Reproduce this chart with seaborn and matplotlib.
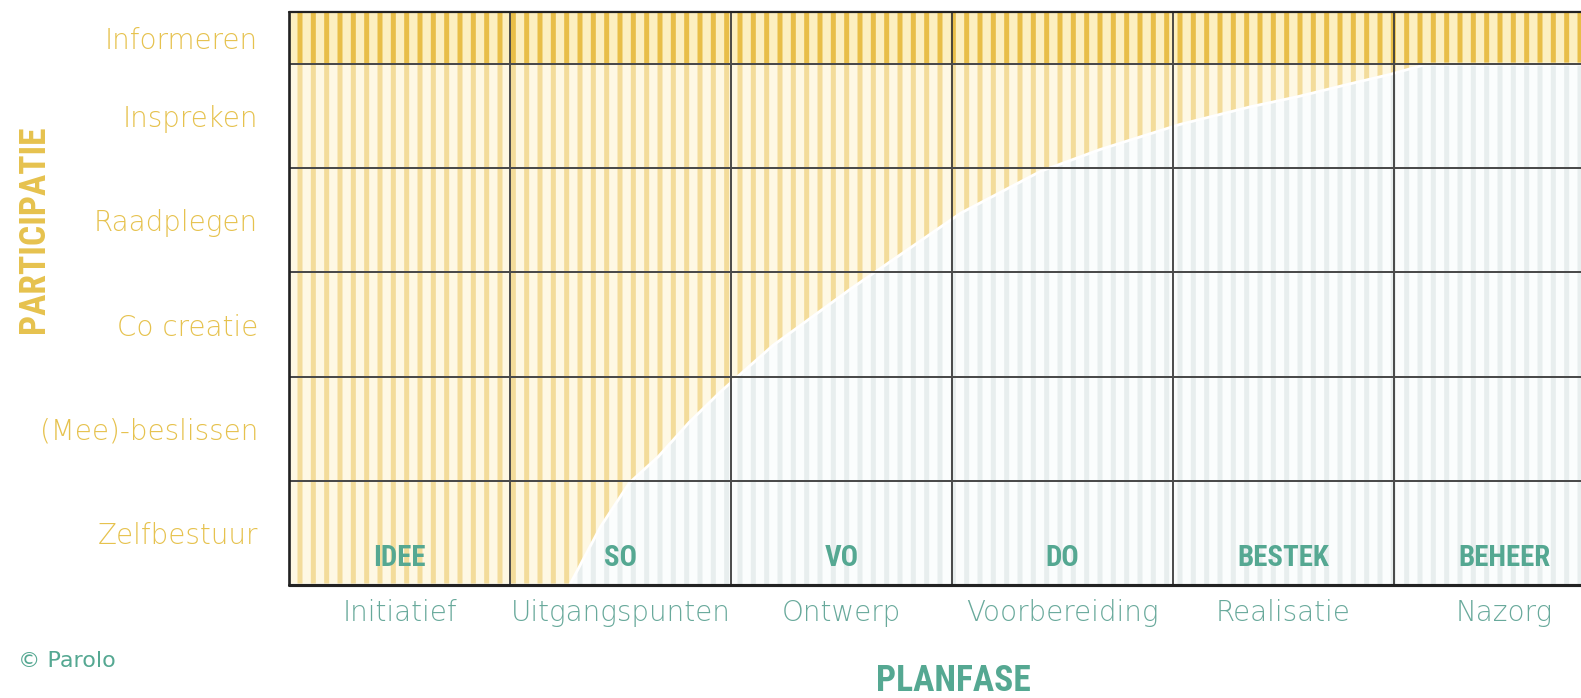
import matplotlib

matplotlib.use("Agg")

import matplotlib.pyplot as plt
import numpy as np
import seaborn as sns

phases = ["IDEE", "SO", "VO", "DO", "BESTEK", "BEHEER"]
phase_names = ["Initiatief", "Uitgangspunten", "Ontwerp", "Voorbereiding", "Realisatie", "Nazorg"]
levels = ["Zelfbestuur", "(Mee)-beslissen", "Co creatie", "Raadplegen", "Inspreken", "Informeren"]
row_edges = [0, 1, 2, 3, 4, 5, 5.5]

# grens tussen geel (participatie mogelijk) en blauw, in kolom- en rij-eenheden
curve_x = [0.0, 1.27, 1.41, 1.54, 1.67, 1.81, 1.95, 2.03, 2.19, 2.54, 3.04, 3.40,
           3.67, 4.03, 4.35, 4.57, 4.80, 4.98, 5.15, 6.0]
curve_y = [0.0, 0.00, 0.56, 0.98, 1.23, 1.56, 1.85, 2.00, 2.30, 2.84, 3.57, 3.97,
           4.18, 4.42, 4.59, 4.69, 4.81, 4.90, 5.00, 5.0]

YELLOW = "#e6c24e"
TEAL = "#55a892"
TEAL_LIGHT = "#68a99b"
NARROW = ["Roboto Condensed", "Liberation Sans Narrow", "DejaVu Sans"]

sns.set_theme(style="white")
plt.rcParams["font.family"] = ["DejaVu Sans"]
plt.rcParams["hatch.linewidth"] = 4.5

DPI = 80
fig = plt.figure(figsize=(1581 / DPI, 698 / DPI), dpi=DPI)
ax = fig.add_axes([289 / 1581, 113 / 698, 1326 / 1581, 573 / 698])

n_cols = len(phases)
top = row_edges[-2]
cx = np.array(curve_x)
cy = np.array(curve_y)

# gestreepte vlakken
ax.fill_between(cx, cy, top, facecolor="#fef8e3", edgecolor="#f3dc9a", hatch="|", linewidth=0)
ax.fill_between(cx, 0, cy, facecolor="#fbfdfd", edgecolor="#e8eeee", hatch="|", linewidth=0)
ax.fill_between([0, n_cols], top, row_edges[-1], facecolor="#fcefc0", edgecolor="#e8be48", hatch="|", linewidth=0)
sns.lineplot(x=curve_x, y=curve_y, sort=False, color="white", lw=2.5, ax=ax, zorder=2)

# raster
for x in range(1, n_cols):
    ax.axvline(x, color="#3a3a3a", lw=1.6, zorder=3)
for y in row_edges[1:-1]:
    ax.axhline(y, color="#4a4a4a", lw=1.8, zorder=3)
ax.axvline(0, color="#222222", lw=2.4, zorder=4, clip_on=False)
ax.axhline(row_edges[-1], color="#222222", lw=2.0, zorder=4, clip_on=False)
ax.axhline(0, color="#222222", lw=2.8, zorder=4, clip_on=False)

ax.set_xlim(0, n_cols)
ax.set_ylim(row_edges[0], row_edges[-1])
for side in ax.spines.values():
    side.set_visible(False)

ax.set_xticks(np.arange(n_cols) + 0.5, phase_names)
row_mid = [(a + b) / 2 for a, b in zip(row_edges[:-1], row_edges[1:])]
ax.set_yticks(row_mid, levels)
ax.tick_params(axis="x", length=0, pad=13, labelsize=25, labelcolor=TEAL_LIGHT)
ax.tick_params(axis="y", length=0, pad=28, labelsize=25, labelcolor=YELLOW)
for lab in ax.get_xticklabels() + ax.get_yticklabels():
    lab.set_fontweight(200)

for i, code in enumerate(phases):
    ax.text(i + 0.5, 0.26, code, ha="center", va="center", family=NARROW, fontstretch="condensed",
            weight="bold", fontsize=26, color=TEAL, zorder=5)

fig.text(34 / 1581, 1 - 229 / 698, "PARTICIPATIE", rotation=90, ha="center", va="center",
         family=NARROW, fontstretch="condensed", weight="bold", fontsize=32, color=YELLOW)
fig.text(953 / 1581, 1 - 681 / 698, "PLANFASE", ha="center", va="center",
         family=NARROW, fontstretch="condensed", weight="bold", fontsize=32, color=TEAL)
fig.text(18 / 1581, 1 - 661 / 698, "© Parolo", ha="left", va="center",
         fontsize=20, color=TEAL)

fig.savefig("out.png", dpi=DPI)
